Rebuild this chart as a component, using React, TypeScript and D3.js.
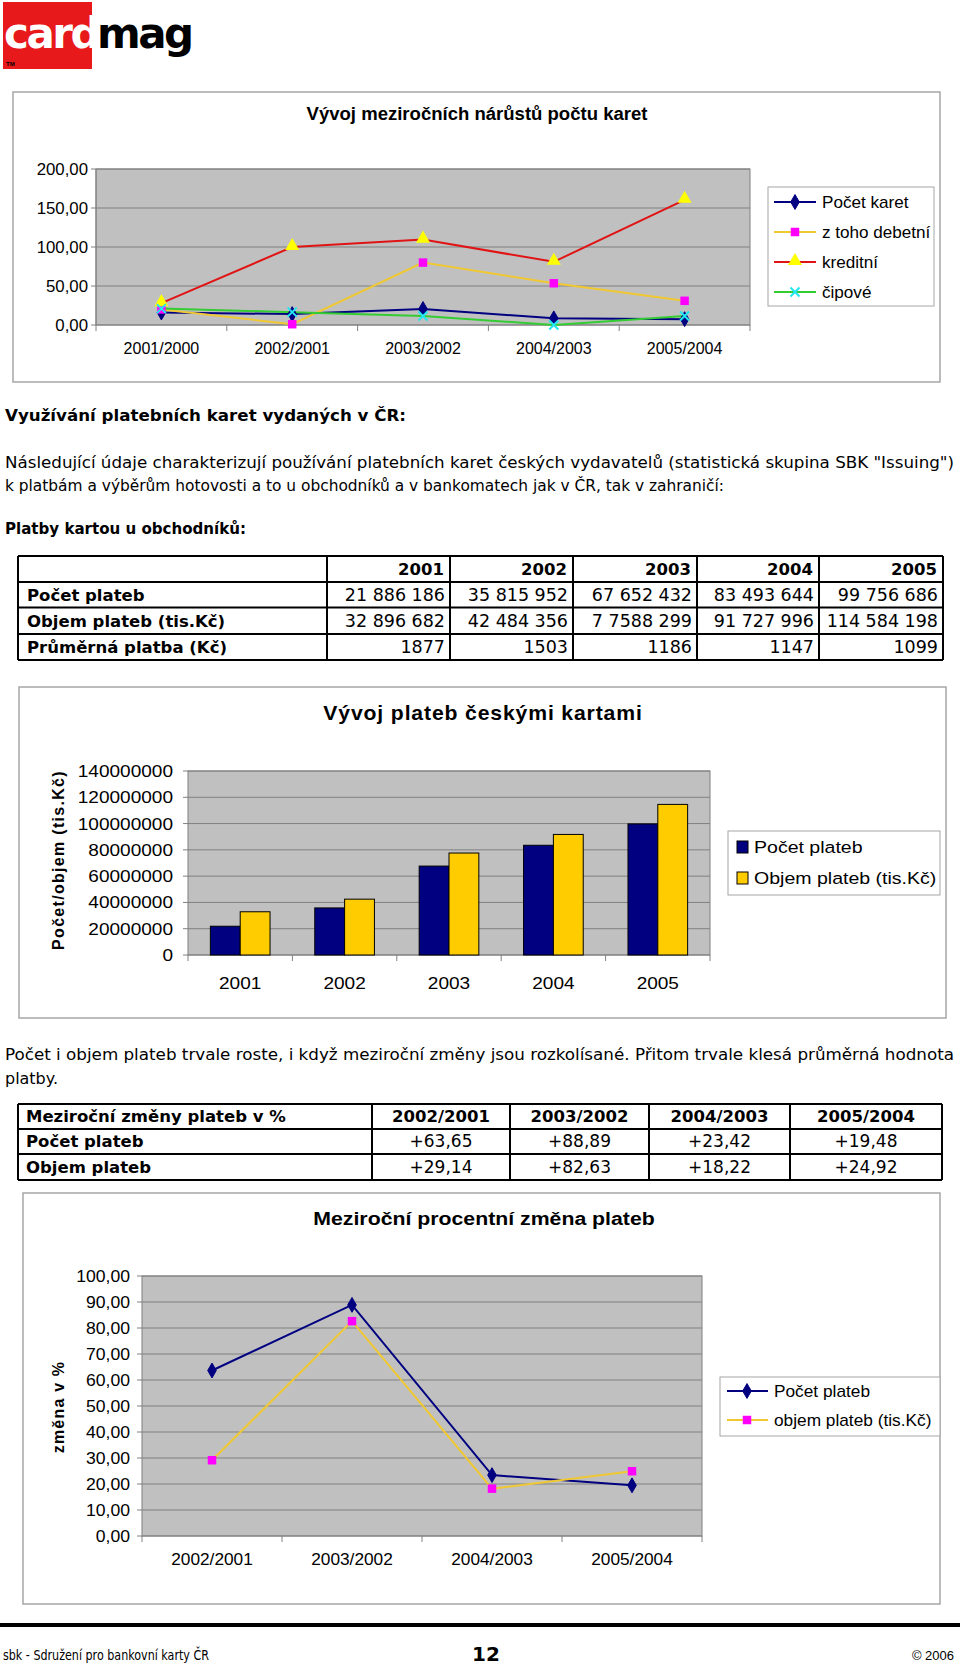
import React from 'react';
import * as d3 from 'd3';

// ---------- data ----------
const cardPeriods = ['2001/2000', '2002/2001', '2003/2002', '2004/2003', '2005/2004'];
const pocetKaret = [16, 14, 20.5, 8.5, 7.5];
const debetni = [20, 1, 80, 53.5, 31];
const kreditni = [28, 100, 109.5, 81, 160.5];
const cipove = [21, 16.5, 11.5, 0, 11.5];
const cardTicks = [0, 50, 100, 150, 200];

const payYears = ['2001', '2002', '2003', '2004', '2005'];
const pocetPlateb = [21886186, 35815952, 67652432, 83493644, 99756686];
const objemPlateb = [32896682, 42484356, 77588299, 91727996, 114584198];
const payTicks = [0, 20000000, 40000000, 60000000, 80000000, 100000000, 120000000, 140000000];

const tablePocet = ['21 886 186', '35 815 952', '67 652 432', '83 493 644', '99 756 686'];
const tableObjem = ['32 896 682', '42 484 356', '7 7588 299', '91 727 996', '114 584 198'];
const tablePrumer = ['1877', '1503', '1186', '1147', '1099'];
const tableRowLabels = ['Počet plateb', 'Objem plateb (tis.Kč)', 'Průměrná platba (Kč)'];

const changePeriods = ['2002/2001', '2003/2002', '2004/2003', '2005/2004'];
const zmenaPocet = [63.65, 88.89, 23.42, 19.48];
const zmenaObjem = [29.14, 82.63, 18.22, 24.92];
const zmenaTicks = [0, 10, 20, 30, 40, 50, 60, 70, 80, 90, 100];

// ---------- styles ----------
const CF = "'Liberation Sans', Arial, sans-serif";
const BF = "'DejaVu Sans', Verdana, sans-serif";
const NAVY = '#000080';
const GOLD = '#f0c832';
const MAGENTA = '#ff00ff';
const RED = '#e01414';
const GREEN = '#33cc33';
const CYAN = '#22e6f0';
const YELLOW = '#ffff00';
const PLOT_BG = '#c0c0c0';
const GRID = '#808080';
const BOX = '#a6a6a6';

const cz = d3.formatLocale({ decimal: ',', thousands: ' ', grouping: [3], currency: ['', ''] });
const fmt2 = cz.format('.2f');
const fmtPlus = cz.format('+.2f');
const fmtInt = cz.format('d');

type TP = {
  x: number; y: number; sx?: number; size: number; weight?: string | number;
  anchor?: 'start' | 'middle' | 'end'; family?: string; fill?: string; ls?: number;
  rotate?: number; tl?: number; children: React.ReactNode;
};
function T({ x, y, sx = 1, size, weight = 'normal', anchor = 'start', family = CF, fill = '#000', ls, rotate, tl, children }: TP) {
  const tr = `translate(${x},${y})${rotate ? ` rotate(${rotate})` : ''}${sx !== 1 ? ` scale(${sx},1)` : ''}`;
  return (
    <text transform={tr} fontSize={size} fontWeight={weight} textAnchor={anchor} fontFamily={family}
      fill={fill} letterSpacing={ls} dy="0.35em"
      {...(tl ? { textLength: tl, lengthAdjust: 'spacingAndGlyphs' } : {})}>{children}</text>
  );
}

const diamondPath = d3.symbol(d3.symbolDiamond, 64)()!;
const squarePath = d3.symbol(d3.symbolSquare, 72)()!;
const trianglePath = d3.symbol(d3.symbolTriangle, 85)()!;
const xPath = 'M-4.5,-4.5L4.5,4.5M-4.5,4.5L4.5,-4.5';

function Marker({ kind, x, y }: { kind: string; x: number; y: number }) {
  const t = `translate(${x},${y})`;
  if (kind === 'diamond') return <path d={diamondPath} transform={t} fill={NAVY} stroke={NAVY} />;
  if (kind === 'square') return <path d={squarePath} transform={t} fill={MAGENTA} />;
  if (kind === 'triangle') return <path d={trianglePath} transform={`translate(${x},${y - 1})`} fill={YELLOW} />;
  return <path d={xPath} transform={t} stroke={CYAN} strokeWidth={2} fill="none" />;
}

// ---------- chart 1 ----------
function CardChart() {
  const L = 96, R = 750, Tp = 169, B = 325;
  const x = d3.scalePoint<string>().domain(cardPeriods).range([L, R]).padding(0.5);
  const xb = d3.scaleBand<string>().domain(cardPeriods).range([L, R]);
  const y = d3.scaleLinear().domain([0, 200]).range([B, Tp]);
  const series = [
    { name: 'Počet karet', data: pocetKaret, color: NAVY, marker: 'diamond' },
    { name: 'z toho debetní', data: debetni, color: GOLD, marker: 'square' },
    { name: 'kreditní', data: kreditni, color: RED, marker: 'triangle' },
    { name: 'čipové', data: cipove, color: GREEN, marker: 'x' },
  ];
  const line = d3.line<number>().x((_, i) => x(cardPeriods[i])!).y(d => y(d));
  return (
    <g>
      <rect x={13} y={92} width={927} height={290} fill="#fff" stroke={BOX} strokeWidth={1.5} />
      <T x={477} y={114} size={18} sx={1.03} weight="bold" anchor="middle">Vývoj meziročních nárůstů počtu karet</T>
      <rect x={L} y={Tp} width={R - L} height={B - Tp} fill={PLOT_BG} stroke={GRID} />
      {cardTicks.map(t => (
        <g key={t}>
          <line x1={L} x2={R} y1={y(t)} y2={y(t)} stroke={GRID} />
          <line x1={L - 5} x2={L} y1={y(t)} y2={y(t)} stroke={GRID} />
          <T x={L - 8} y={y(t)} size={16} sx={1.05} anchor="end">{fmt2(t)}</T>
        </g>
      ))}
      <line x1={L} x2={L} y1={Tp} y2={B} stroke={GRID} />
      {[...cardPeriods.map(c => xb(c)!), R].map((v, i) => (
        <line key={i} x1={v} x2={v} y1={B} y2={B + 6} stroke={GRID} />
      ))}
      {cardPeriods.map(c => (
        <T key={c} x={x(c)!} y={348} size={16} anchor="middle">{c}</T>
      ))}
      {series.map(s => (
        <path key={s.name} d={line(s.data)!} fill="none" stroke={s.color} strokeWidth={2} />
      ))}
      {series.map(s => s.data.map((d, i) => (
        <Marker key={s.name + i} kind={s.marker} x={x(cardPeriods[i])!} y={y(d)} />
      )))}
      <rect x={768} y={187} width={166} height={119} fill="#fff" stroke={BOX} />
      {series.map((s, i) => {
        const ly = 202 + i * 30;
        return (
          <g key={s.name}>
            <line x1={774} x2={816} y1={ly} y2={ly} stroke={s.color} strokeWidth={2} />
            <Marker kind={s.marker} x={795} y={ly} />
            <T x={822} y={ly} size={16} sx={1.07}>{s.name}</T>
          </g>
        );
      })}
    </g>
  );
}

// ---------- chart 2 ----------
function PayChart() {
  const L = 188, R = 710, Tp = 771, B = 955;
  const xb = d3.scaleBand<string>().domain(payYears).range([L, R]);
  const step = xb.step();
  const groupW = step * (2 / 3.5);
  const x1 = d3.scaleBand<string>().domain(['p', 'o']).range([0, groupW]);
  const off = (step - groupW) / 2;
  const y = d3.scaleLinear().domain([0, 140000000]).range([B, Tp]);
  const sx = 1.12;
  return (
    <g>
      <rect x={19} y={687} width={927} height={331} fill="#fff" stroke={BOX} strokeWidth={1.5} />
      <T x={483} y={713} size={20} sx={1.06} weight="bold" anchor="middle" ls={0.8}>Vývoj plateb českými kartami</T>
      <T x={58} y={860} size={16} weight="bold" anchor="middle" rotate={-90} ls={1.3}>Počet/objem (tis.Kč)</T>
      <rect x={L} y={Tp} width={R - L} height={B - Tp} fill={PLOT_BG} stroke={GRID} />
      {payTicks.map(t => (
        <g key={t}>
          <line x1={L} x2={R} y1={y(t)} y2={y(t)} stroke={GRID} />
          <line x1={L - 5} x2={L} y1={y(t)} y2={y(t)} stroke={GRID} />
          <T x={L - 15} y={y(t)} size={17} sx={sx} anchor="end">{fmtInt(t).replace(/ /g, '')}</T>
        </g>
      ))}
      {[...payYears.map(c => xb(c)!), R].map((v, i) => (
        <line key={i} x1={v} x2={v} y1={B} y2={B + 6} stroke={GRID} />
      ))}
      {payYears.map((c, i) => (
        <g key={c}>
          <rect x={xb(c)! + off + x1('p')!} y={y(pocetPlateb[i])} width={x1.bandwidth()}
            height={B - y(pocetPlateb[i])} fill={NAVY} stroke="#000" />
          <rect x={xb(c)! + off + x1('o')!} y={y(objemPlateb[i])} width={x1.bandwidth()}
            height={B - y(objemPlateb[i])} fill="#ffcc00" stroke="#000" />
          <T x={xb(c)! + step / 2} y={983} size={17} sx={sx} anchor="middle">{c}</T>
        </g>
      ))}
      <rect x={728} y={831} width={212} height={64} fill="#fff" stroke={BOX} />
      {[{ n: 'Počet plateb', c: NAVY }, { n: 'Objem plateb (tis.Kč)', c: '#ffcc00' }].map((s, i) => {
        const ly = 847 + i * 31;
        return (
          <g key={s.n}>
            <rect x={737} y={ly - 6} width={11} height={12} fill={s.c} stroke="#000" />
            <T x={754} y={ly} size={17} sx={1.15}>{s.n}</T>
          </g>
        );
      })}
    </g>
  );
}

// ---------- chart 3 ----------
function ChangeChart() {
  const L = 142, R = 702, Tp = 1276, B = 1536;
  const x = d3.scalePoint<string>().domain(changePeriods).range([L, R]).padding(0.5);
  const xb = d3.scaleBand<string>().domain(changePeriods).range([L, R]);
  const y = d3.scaleLinear().domain([0, 100]).range([B, Tp]);
  const line = d3.line<number>().x((_, i) => x(changePeriods[i])!).y(d => y(d));
  const series = [
    { name: 'Počet plateb', data: zmenaPocet, color: NAVY, marker: 'diamond' },
    { name: 'objem plateb (tis.Kč)', data: zmenaObjem, color: GOLD, marker: 'square' },
  ];
  return (
    <g>
      <rect x={23} y={1193} width={917} height={411} fill="#fff" stroke={BOX} strokeWidth={1.5} />
      <T x={484} y={1218} size={19} sx={1.12} weight="bold" anchor="middle">Meziroční procentní změna plateb</T>
      <T x={58} y={1407} size={16} weight="bold" anchor="middle" rotate={-90} ls={1.2}>změna v %</T>
      <rect x={L} y={Tp} width={R - L} height={B - Tp} fill={PLOT_BG} stroke={GRID} />
      {zmenaTicks.map(t => (
        <g key={t}>
          <line x1={L} x2={R} y1={y(t)} y2={y(t)} stroke={GRID} />
          <line x1={L - 5} x2={L} y1={y(t)} y2={y(t)} stroke={GRID} />
          <T x={L - 12} y={y(t)} size={16} sx={1.1} anchor="end">{fmt2(t)}</T>
        </g>
      ))}
      {[...changePeriods.map(c => xb(c)!), R].map((v, i) => (
        <line key={i} x1={v} x2={v} y1={B} y2={B + 6} stroke={GRID} />
      ))}
      {changePeriods.map(c => (
        <T key={c} x={x(c)!} y={1559} size={16} sx={1.08} anchor="middle">{c}</T>
      ))}
      {series.map(s => (
        <path key={s.name} d={line(s.data)!} fill="none" stroke={s.color} strokeWidth={2} />
      ))}
      {series.map(s => s.data.map((d, i) => (
        <Marker key={s.name + i} kind={s.marker} x={x(changePeriods[i])!} y={y(d)} />
      )))}
      <rect x={720} y={1377} width={220} height={59} fill="#fff" stroke={BOX} />
      {series.map((s, i) => {
        const ly = 1391 + i * 29;
        return (
          <g key={s.name}>
            <line x1={727} x2={768} y1={ly} y2={ly} stroke={s.color} strokeWidth={2} />
            <Marker kind={s.marker} x={747} y={ly} />
            <T x={774} y={ly} size={16} sx={1.08}>{s.name}</T>
          </g>
        );
      })}
    </g>
  );
}

// ---------- tables ----------
function PayTable() {
  const cols = [18, 327, 450, 573, 697, 819, 943];
  const rows = [556, 582, 607.5, 634, 660];
  const data = [tablePocet, tableObjem, tablePrumer];
  return (
    <g>
      {rows.map((r, i) => (
        <line key={'r' + i} x1={cols[0]} x2={cols[6]} y1={r} y2={r} stroke="#000" strokeWidth={2} />
      ))}
      {cols.map((c, i) => (
        <line key={'c' + i} x1={c} x2={c} y1={rows[0]} y2={rows[4]} stroke="#000" strokeWidth={2} />
      ))}
      {payYears.map((yr, j) => (
        <T key={yr} x={cols[j + 2] - 6} y={(rows[0] + rows[1]) / 2} size={16.5} weight="bold" family={BF} anchor="end">{yr}</T>
      ))}
      {tableRowLabels.map((lab, i) => (
        <g key={lab}>
          <T x={27} y={(rows[i + 1] + rows[i + 2]) / 2} size={16.5} weight="bold" family={BF}>{lab}</T>
          {data[i].map((v, j) => (
            <T key={j} x={cols[j + 2] - 5} y={(rows[i + 1] + rows[i + 2]) / 2} size={17.5} family={BF} anchor="end">{v}</T>
          ))}
        </g>
      ))}
    </g>
  );
}

function ChangeTable() {
  const cols = [18, 372, 510, 649, 790, 942];
  const rows = [1104, 1129, 1154, 1180];
  const rowsData = [
    { label: 'Počet plateb', vals: zmenaPocet },
    { label: 'Objem plateb', vals: zmenaObjem },
  ];
  return (
    <g>
      {rows.map((r, i) => (
        <line key={'r' + i} x1={cols[0]} x2={cols[5]} y1={r} y2={r} stroke="#000" strokeWidth={2} />
      ))}
      {cols.map((c, i) => (
        <line key={'c' + i} x1={c} x2={c} y1={rows[0]} y2={rows[3]} stroke="#000" strokeWidth={2} />
      ))}
      <T x={26} y={(rows[0] + rows[1]) / 2} size={16.5} weight="bold" family={BF}>Meziroční změny plateb v %</T>
      {changePeriods.map((p, j) => (
        <T key={p} x={(cols[j + 1] + cols[j + 2]) / 2} y={(rows[0] + rows[1]) / 2} size={16.5} weight="bold" family={BF} anchor="middle">{p}</T>
      ))}
      {rowsData.map((r, i) => (
        <g key={r.label}>
          <T x={26} y={(rows[i + 1] + rows[i + 2]) / 2} size={16.5} weight="bold" family={BF}>{r.label}</T>
          {r.vals.map((v, j) => (
            <T key={j} x={(cols[j + 1] + cols[j + 2]) / 2} y={(rows[i + 1] + rows[i + 2]) / 2} size={17} family={BF} anchor="middle">{fmtPlus(v)}</T>
          ))}
        </g>
      ))}
    </g>
  );
}

export default function App() {
  return (
    <svg width={960} height={1666} viewBox="0 0 960 1666"
      style={{ position: 'absolute', left: 0, top: 0, background: '#fff' }}>
      <rect width={960} height={1666} fill="#fff" />
      {/* logo */}
      <defs>
        <clipPath id="logoClip"><rect x={3} y={2} width={89} height={67} /></clipPath>
      </defs>
      <rect x={3} y={2} width={89} height={67} fill="#e8191b" />
      <text x={4} y={48} fontFamily={BF} fontWeight="bold" fontSize={42} letterSpacing={-2.5} fill="#fff" clipPath="url(#logoClip)">card</text>
      <text x={97} y={48} fontFamily={BF} fontWeight="bold" fontSize={42} letterSpacing={-2.5} fill="#000">mag</text>
      <text x={6} y={66} fontFamily={CF} fontWeight="bold" fontSize={6} fill="#000">TM</text>

      <CardChart />

      <T x={5} y={415} size={16} weight="bold" family={BF} tl={401}>Využívání platebních karet vydaných v ČR:</T>
      <T x={5} y={462} size={16} family={BF} tl={949}>Následující údaje charakterizují používání platebních karet českých vydavatelů (statistická skupina SBK "Issuing")</T>
      <T x={5} y={485} size={16} family={BF} tl={719}>k platbám a výběrům hotovosti a to u obchodníků a v bankomatech jak v ČR, tak v zahraničí:</T>
      <T x={5} y={528} size={16} weight="bold" family={BF} tl={241}>Platby kartou u obchodníků:</T>

      <PayTable />
      <PayChart />

      <T x={5} y={1054} size={16} family={BF} tl={949}>Počet i objem plateb trvale roste, i když meziroční změny jsou rozkolísané. Přitom trvale klesá průměrná hodnota</T>
      <T x={5} y={1078} size={16} family={BF} tl={53}>platby.</T>

      <ChangeTable />
      <ChangeChart />

      <rect x={0} y={1623} width={960} height={4} fill="#000" />
      <T x={3} y={1655} size={13.5} family={BF} tl={206}>sbk - Sdružení pro bankovní karty ČR</T>
      <T x={486} y={1654} size={20} weight="bold" family={BF} anchor="middle">12</T>
      <T x={954} y={1655} size={13} family={CF} anchor="end">© 2006</T>
    </svg>
  );
}
